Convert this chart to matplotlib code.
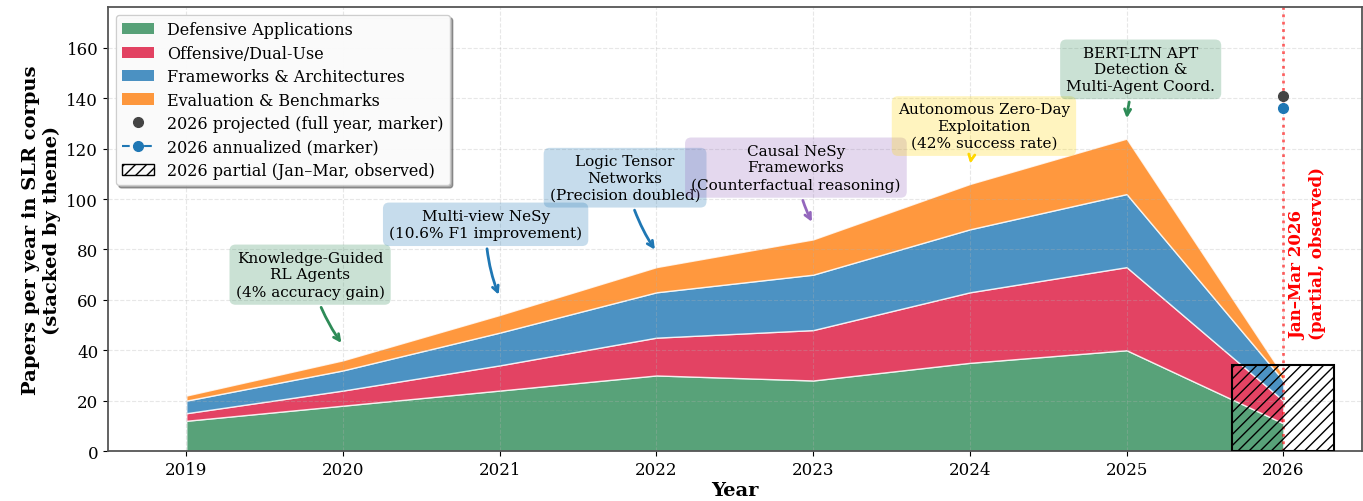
import numpy as np
import matplotlib.pyplot as plt
from matplotlib.patches import Patch
from matplotlib.lines import Line2D

plt.rcParams['font.family'] = 'DejaVu Serif'

years = [2019, 2020, 2021, 2022, 2023, 2024, 2025, 2026]
defensive = [12, 18, 24, 30, 28, 35, 40, 11]
offensive = [3, 6, 10, 15, 20, 28, 33, 9]
frameworks = [5, 8, 13, 18, 22, 25, 29, 8]
evaluation = [2, 4, 7, 10, 14, 18, 22, 2]

partial_2026 = 34
projected_2026 = 141
annualized_2026 = 136

labels = ['Defensive Applications', 'Offensive/Dual-Use',
          'Frameworks & Architectures', 'Evaluation & Benchmarks']
colors = ['#2E8B57', '#DC143C', '#1f77b4', '#ff7f0e']

# annotations: text, text position, arrow target, colour
notes = [
    ("Knowledge-Guided\nRL Agents\n(4% accuracy gain)", (2019.79, 70), (2020, 42), '#2E8B57'),
    ("Multi-view NeSy\n(10.6% F1 improvement)", (2020.91, 90), (2021, 61), '#1f77b4'),
    ("Logic Tensor\nNetworks\n(Precision doubled)", (2021.80, 108.5), (2022, 79), '#1f77b4'),
    ("Causal NeSy\nFrameworks\n(Counterfactual reasoning)", (2022.89, 112.5), (2023, 90), '#9467bd'),
    ("Autonomous Zero-Day\nExploitation\n(42% success rate)", (2024.09, 129), (2024, 113), 'gold'),
    ("BERT-LTN APT\nDetection &\nMulti-Agent Coord.", (2025.09, 151.5), (2025, 131), '#2E8B57'),
]

fig, ax = plt.subplots(figsize=(13.63, 5.02), dpi=100)
fig.subplots_adjust(left=0.0792, right=0.999, bottom=0.0996, top=0.984)

ax.stackplot(years, defensive, offensive, frameworks, evaluation,
             colors=colors, alpha=0.8, edgecolor='white', linewidth=1)

ax.bar(2026, partial_2026, width=0.65, facecolor='none', edgecolor='black',
       hatch='///', linewidth=1.5, zorder=3)

ax.plot(2026, projected_2026, 'o', color='#444444', markersize=7, zorder=4)
ax.plot(2026, annualized_2026, 'o', color='#1f77b4', markersize=7, zorder=4)

ax.axvline(2026, color='red', linestyle=':', linewidth=2, alpha=0.6)
ax.text(2026.04, 44.5, 'Jan–Mar 2026\n(partial, observed)', rotation=90,
        color='red', fontsize=12, fontweight='bold', ha='left', va='bottom')

for txt, xyt, xy, c in notes:
    ax.annotate(txt, xy=xy, xytext=xyt, ha='center', va='center', fontsize=11,
                linespacing=1.25,
                bbox=dict(boxstyle='round,pad=0.4', facecolor=c, alpha=0.25,
                          edgecolor='none'),
                arrowprops=dict(arrowstyle='->', color=c, lw=2,
                                connectionstyle='arc3,rad=0.1'))

ax.set_xlim(2018.5, 2026.5)
ax.set_ylim(0, 176.25)
ax.set_xticks(years)
ax.tick_params(labelsize=12)
ax.set_xlabel('Year', fontsize=14, fontweight='bold', labelpad=2)
ax.set_ylabel('Papers per year in SLR corpus\n(stacked by theme)', fontsize=14,
              fontweight='bold')
ax.grid(True, linestyle='--', alpha=0.3)
for s in ax.spines.values():
    s.set_color('#555555')
    s.set_linewidth(1.3)

handles = [Patch(facecolor=c, alpha=0.8, label=l) for c, l in zip(colors, labels)]
handles.append(Line2D([], [], marker='o', linestyle='none', color='#444444',
                      markersize=7, label='2026 projected (full year, marker)'))
handles.append(Line2D([], [], marker='o', linestyle='--', color='#1f77b4',
                      markersize=7, label='2026 annualized (marker)'))
handles.append(Patch(facecolor='none', edgecolor='black', hatch='///',
                     label='2026 partial (Jan–Mar, observed)'))
ax.legend(handles=handles, loc='upper left', fontsize=11.5, frameon=True,
          fancybox=True, shadow=True, framealpha=0.95, labelspacing=0.4)

fig.savefig('out.png', dpi=100)
